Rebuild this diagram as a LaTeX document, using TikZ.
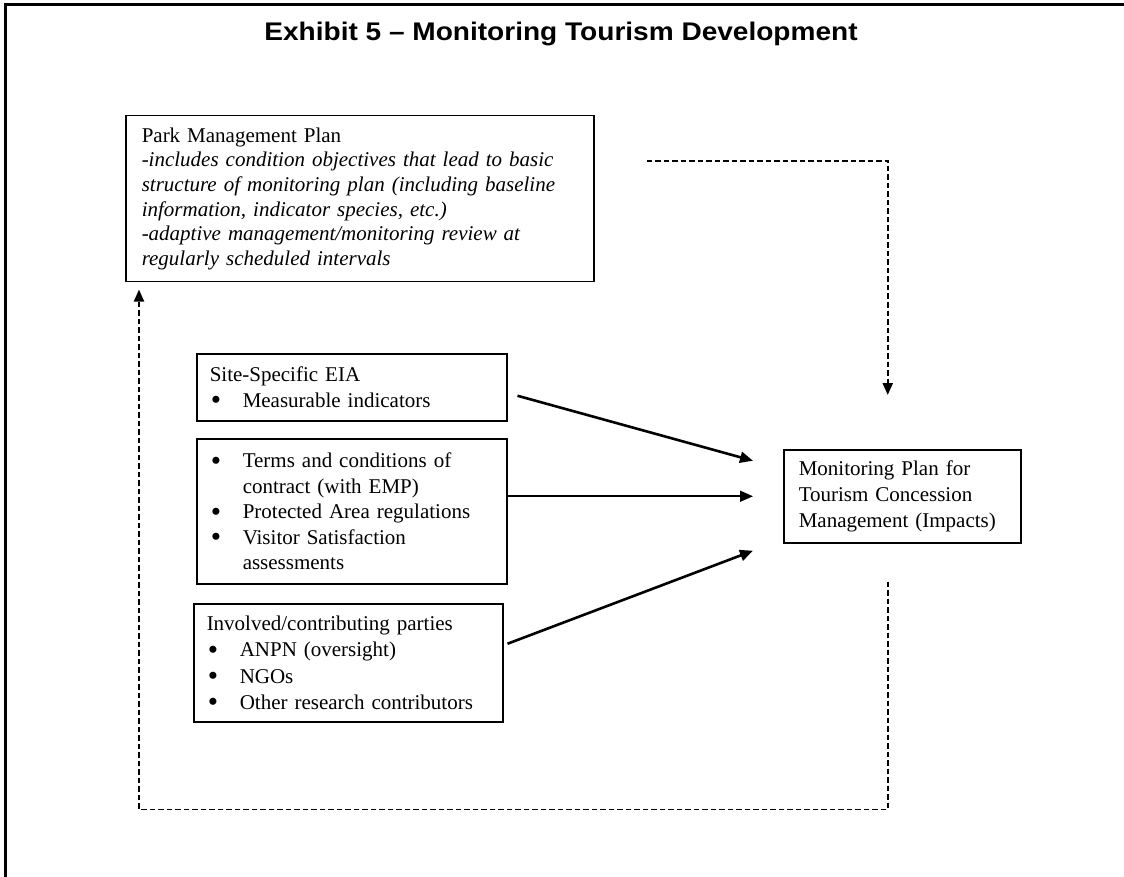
\documentclass[tikz,border=0pt]{standalone}
\usepackage{fontspec}
\usepackage{graphicx}
\setmainfont{Liberation Serif}
\newfontfamily\titlefont[FakeStretch=1.1]{Liberation Sans}
\usetikzlibrary{calc,arrows.meta}
\newcommand\bul{\hspace*{1pt}\makebox[32pt][l]{\smash{\raisebox{-2.6pt}{\scalebox{1.4}{\textbullet}}}}}
\newcommand\ind{\hspace*{33pt}}
\begin{document}
\begin{tikzpicture}[x=1pt,y=-1pt,
  box/.style={draw, line width=1.5pt, inner xsep=13pt, inner ysep=0pt, anchor=north west, align=left,
    font=\fontsize{21}{25.5}\selectfont},
  solidarrow/.style={line width=2.6pt, -{Triangle[length=13pt,width=11pt]}},
  thinarrow/.style={line width=1.6pt, -{Triangle[length=13pt,width=11pt]}},
  dasharrow/.style={line width=2.2pt, dash pattern=on 5.5pt off 3pt, -{Triangle[length=12pt,width=10pt]}},
  frame/.style={line width=3pt},
]
\useasboundingbox (0,0) rectangle (1124,877);
\draw[frame] (5,885) -- (5,5) -- (1135,5);

\node[anchor=base, font=\titlefont\bfseries\fontsize{25.5}{30}\selectfont] (title) at (561,41)
  {Exhibit 5 – Monitoring Tourism Development};

\node[box, minimum width=468pt, minimum height=166pt, text width=436pt, inner xsep=16pt,
  font=\fontsize{21}{24.7}\selectfont] (park) at (125,115)
  {\mbox{Park Management Plan}\\
   \mbox{-\textit{includes condition objectives that lead to basic}}\\
   \mbox{\textit{structure of monitoring plan (including baseline}}\\
   \mbox{\textit{information, indicator species, etc.)}}\\
   \mbox{-\textit{adaptive management/monitoring review at}}\\
   \mbox{\textit{regularly scheduled intervals}}};

\node[box, minimum width=310pt, minimum height=67pt, text width=284pt] (site) at (196,353)
  {\mbox{Site-Specific EIA}\\
   \mbox{\bul Measurable indicators}};

\node[box, minimum width=310pt, minimum height=145pt, text width=284pt] (terms) at (196,438)
  {\mbox{\bul Terms and conditions of}\\
   \mbox{\ind contract (with EMP)}\\
   \mbox{\bul Protected Area regulations}\\
   \mbox{\bul Visitor Satisfaction}\\
   \mbox{\ind assessments}};

\node[box, minimum width=309pt, minimum height=118pt, text width=283pt,
  font=\fontsize{21}{26.3}\selectfont] (inv) at (193,603)
  {\mbox{Involved/contributing parties}\\
   \mbox{\bul ANPN (oversight)}\\
   \mbox{\bul NGOs}\\
   \mbox{\bul Other research contributors}};

\node[box, minimum width=237pt, minimum height=93pt, text width=207pt, inner xsep=15pt,
  font=\fontsize{21}{26}\selectfont] (mon) at (783,449)
  {\mbox{Monitoring Plan for}\\
   \mbox{Tourism Concession}\\
   \mbox{Management (Impacts)}};

\draw[solidarrow] ($(site.east)+(10,8.5)$) -- ($(mon.west)+(-30,-35.5)$);
\draw[thinarrow] (mon.west -| terms.east) -- ($(mon.west)+(-30,0)$);
\draw[solidarrow] ($(inv.east)+(4,-19)$) -- ($(mon.west)+(-30,54.5)$);

\draw[dasharrow] ($(park.east)+(52,-38)$) -| ($(mon.north)+(-14.5,-54)$);
\draw[dasharrow, line width=1.9pt] ($(mon.south)+(-14.5,38)$) -- ++(0,228) -| ($(park.south west)+(14,7)$);
\end{tikzpicture}
\end{document}
